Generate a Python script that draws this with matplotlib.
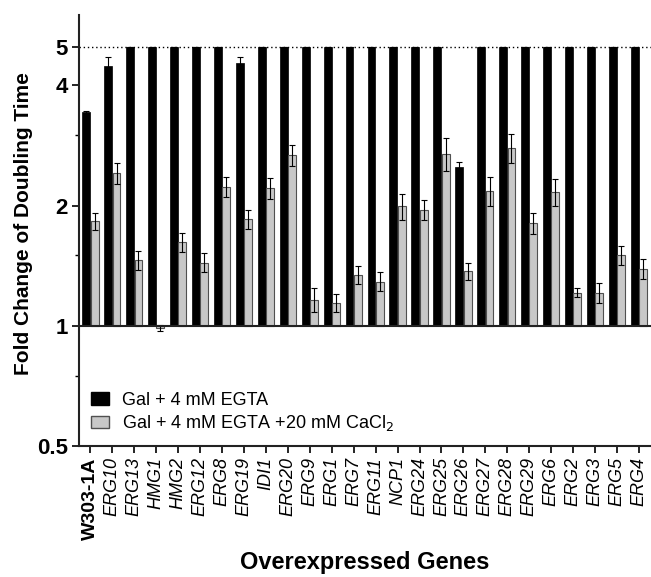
import matplotlib
matplotlib.use("Agg")
import matplotlib.pyplot as plt
import numpy as np
from matplotlib.patches import Patch
from matplotlib.ticker import FixedLocator, NullFormatter

plt.rcParams['font.family'] = ['Liberation Sans', 'DejaVu Sans']

# Data
genes = ['W303-1A', 'ERG10', 'ERG13', 'HMG1', 'HMG2', 'ERG12', 'ERG8', 'ERG19', 'IDI1',
         'ERG20', 'ERG9', 'ERG1', 'ERG7', 'ERG11', 'NCP1', 'ERG24', 'ERG25', 'ERG26',
         'ERG27', 'ERG28', 'ERG29', 'ERG6', 'ERG2', 'ERG3', 'ERG5', 'ERG4']
egta = [3.43, 4.47, 5, 5, 5, 5, 5, 4.56, 5, 5, 5, 5, 5, 5, 5, 5, 5, 2.50,
        5, 5, 5, 5, 5, 5, 5, 5]
egta_err = [0.02, 0.25, 0, 0, 0, 0, 0, 0.14, 0, 0, 0, 0, 0, 0, 0, 0, 0, 0.07,
            0, 0, 0, 0, 0, 0, 0, 0]
cacl2 = [1.83, 2.41, 1.46, 0.987, 1.62, 1.44, 2.23, 1.85, 2.21, 2.67, 1.16, 1.14,
         1.34, 1.29, 1.99, 1.95, 2.70, 1.37, 2.18, 2.79, 1.81, 2.16, 1.21, 1.21,
         1.50, 1.39]
cacl2_err = [0.09, 0.14, 0.08, 0.015, 0.09, 0.08, 0.13, 0.10, 0.13, 0.16, 0.08, 0.06,
             0.07, 0.07, 0.15, 0.11, 0.26, 0.07, 0.18, 0.24, 0.11, 0.17, 0.03, 0.07,
             0.08, 0.08]

x = np.arange(len(genes))
w = 0.36

fig = plt.figure(figsize=(6.51, 5.77), dpi=100)
ax = fig.add_axes([0.121, 0.227, 0.879, 0.747])

egta = np.array(egta)
cacl2 = np.array(cacl2)

ax.bar(x - 0.19, egta - 1, bottom=1, width=w, color='black', edgecolor='black',
       linewidth=0.5, zorder=2)
ax.errorbar(x - 0.19, egta, yerr=egta_err, fmt='none', ecolor='black',
            elinewidth=0.8, capsize=2, capthick=0.8, zorder=3)
ax.bar(x + 0.19, cacl2 - 1, bottom=1, width=w, color='#c8c8c8', edgecolor='#505050',
       linewidth=0.8, zorder=2)
ax.errorbar(x + 0.19, cacl2, yerr=cacl2_err, fmt='none', ecolor='black',
            elinewidth=0.8, capsize=2, capthick=0.8, zorder=3)

ax.axhline(5, color='black', linestyle=(0, (1, 2)), linewidth=1, zorder=1)
ax.axhline(1, color='#222222', linewidth=1.5, zorder=4)

ax.set_yscale('log')
ax.set_ylim(0.5, 6.0)
ax.set_xlim(-0.53, 25.55)
ax.yaxis.set_major_locator(FixedLocator([0.5, 1, 2, 4, 5]))
ax.yaxis.set_minor_locator(FixedLocator([0.75, 1.5, 3]))
ax.yaxis.set_minor_formatter(NullFormatter())
ax.set_yticklabels(['0.5', '1', '2', '4', '5'], fontsize=16, fontweight='bold')

ax.set_xticks(x)
ax.set_xticklabels(genes, rotation=90, fontsize=13)
for i, lab in enumerate(ax.get_xticklabels()):
    if i == 0:
        lab.set_fontweight('bold')
        lab.set_fontsize(14)
    else:
        lab.set_fontstyle('italic')

for s in ['top', 'right']:
    ax.spines[s].set_visible(False)
for s in ['left', 'bottom']:
    ax.spines[s].set_linewidth(1.5)
    ax.spines[s].set_color('#222222')
ax.tick_params(axis='both', which='major', length=5, width=1.2, pad=3)
ax.tick_params(axis='y', which='minor', length=3, width=1.0)

ax.set_ylabel('Fold Change of Doubling Time', fontsize=15, fontweight='bold')
ax.yaxis.set_label_coords(-0.08, 0.516)
ax.set_xlabel('Overexpressed Genes', fontsize=17, fontweight='bold')
ax.xaxis.set_label_coords(0.5, -0.243)

handles = [Patch(facecolor='black', edgecolor='black'),
           Patch(facecolor='#c8c8c8', edgecolor='#505050')]
ax.legend(handles, ['Gal + 4 mM EGTA', 'Gal + 4 mM EGTA +20 mM CaCl$_2$'],
          loc='lower left', bbox_to_anchor=(0.0, 0.0), frameon=False, fontsize=13,
          handlelength=1.0, handleheight=0.7, handletextpad=0.7, labelspacing=0.25,
          borderaxespad=0.3)

fig.savefig('out.png', dpi=100)
